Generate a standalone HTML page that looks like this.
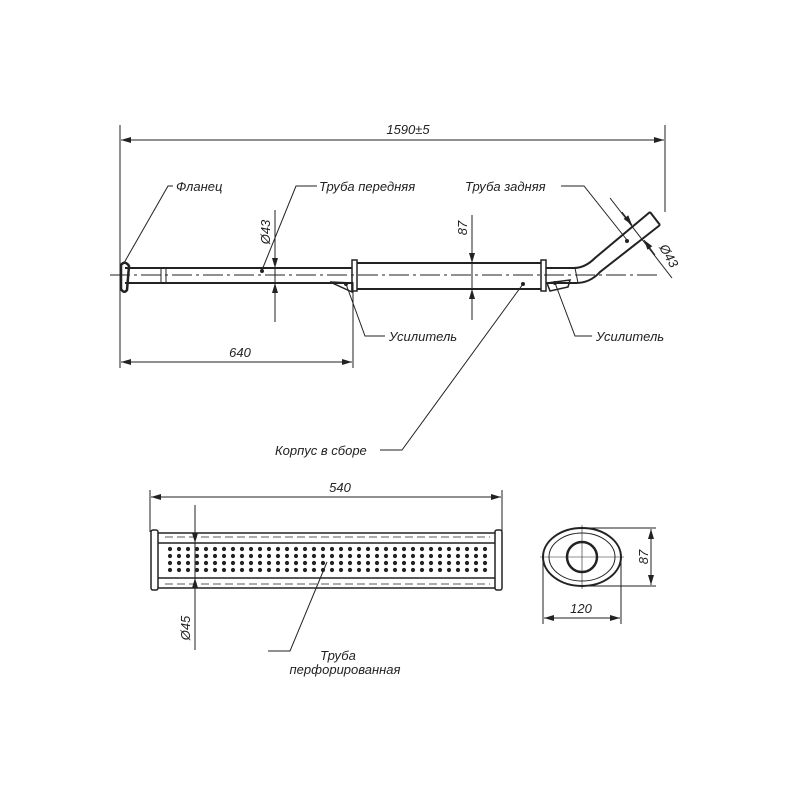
<!DOCTYPE html>
<html><head><meta charset="utf-8"><style>body{margin:0;background:#fff}svg{display:block}</style></head><body>
<svg width="800" height="800" viewBox="0 0 800 800" xmlns="http://www.w3.org/2000/svg">
<defs>
<marker id="a" viewBox="0 0 10 6" refX="10" refY="3" markerWidth="10" markerHeight="6" orient="auto-start-reverse" markerUnits="userSpaceOnUse"><path d="M0,0 L10,3 L0,6 Z" fill="#222"/></marker>
</defs>
<g stroke="#222" fill="none" stroke-width="1" font-family="Liberation Sans, sans-serif">
<line x1="120" y1="125" x2="120" y2="368"/>
<line x1="665" y1="125" x2="665" y2="212"/>
<line x1="121" y1="140" x2="664" y2="140" marker-start="url(#a)" marker-end="url(#a)"/>
<line x1="353" y1="282" x2="353" y2="368"/>
<line x1="121" y1="362" x2="352" y2="362" marker-start="url(#a)" marker-end="url(#a)"/>
<path d="M125,268 L352,268 M125,283 L352,283" stroke-width="2"/>
<line x1="161" y1="268" x2="161" y2="283"/><line x1="166" y1="268" x2="166" y2="283"/>
<line x1="110" y1="275" x2="660" y2="275" stroke-dasharray="20,4,3,4"/>
<path d="M121,265 Q125,260 129,266 L127,290 Q124,294 121,289 Z" stroke-width="2.5"/>
<path d="M330,282 L352,283 L352,292 Z" stroke-width="1.5"/>
<path d="M547,283 L570,280 L568,287 L550,291 Z" stroke-width="1.5"/>
<rect x="352" y="260" width="5" height="31" stroke-width="1.5"/>
<rect x="541" y="260" width="5" height="31" stroke-width="1.5"/>
<path d="M357,263 L541,263 M357,289 L541,289" stroke-width="2"/>
<path d="M546,268 L574,268 Q585,268 595,258 L650,212 M546,283 L576,283 Q590,283 600,272 L660,225" stroke-width="2"/>
<path d="M650,212 L660,225" stroke-width="2"/>
<line x1="575" y1="268" x2="578" y2="283"/>
<line x1="275" y1="210" x2="275" y2="322"/>
<line x1="275" y1="250" x2="275" y2="268" marker-end="url(#a)"/>
<line x1="275" y1="300" x2="275" y2="283" marker-end="url(#a)"/>
<line x1="472" y1="215" x2="472" y2="320"/>
<line x1="472" y1="245" x2="472" y2="263" marker-end="url(#a)"/>
<line x1="472" y1="307" x2="472" y2="289" marker-end="url(#a)"/>
<line x1="610" y1="198" x2="672" y2="278"/>
<line x1="622" y1="212" x2="632" y2="225" marker-end="url(#a)"/>
<line x1="655" y1="255" x2="644" y2="240" marker-end="url(#a)"/>
<polyline points="173,186 168,186 124,263"/>
<polyline points="317,186 296,186 262,270"/>
<circle cx="262" cy="271" r="1.5" fill="#222"/>
<polyline points="561,186 584,186 627,240"/>
<circle cx="627" cy="241" r="1.5" fill="#222"/>
<polyline points="346,284 365,336 385,336"/>
<circle cx="346" cy="284" r="1.5" fill="#222"/>
<polyline points="555,283 575,336 592,336"/>
<circle cx="555" cy="283" r="1.5" fill="#222"/>
<polyline points="380,450 402,450 523,284"/>
<circle cx="523" cy="284" r="1.5" fill="#222"/>
<line x1="150" y1="490" x2="150" y2="532"/>
<line x1="502" y1="490" x2="502" y2="532"/>
<line x1="151" y1="497" x2="501" y2="497" marker-start="url(#a)" marker-end="url(#a)"/>
<rect x="151" y="530" width="7" height="60" rx="2" stroke-width="1.5"/>
<rect x="495" y="530" width="7" height="60" rx="2" stroke-width="1.5"/>
<path d="M158,533 L495,533 M158,588 L495,588" stroke-width="1.5"/>
<path d="M158,543 L495,543 M158,578 L495,578" stroke-width="1.5"/>
<path d="M165,537 L490,537 M165,584 L490,584" stroke-dasharray="8,4" stroke-width="0.8"/>
<line x1="195" y1="505" x2="195" y2="650"/>
<line x1="195" y1="525" x2="195" y2="543" marker-end="url(#a)"/>
<line x1="195" y1="596" x2="195" y2="578" marker-end="url(#a)"/>
<polyline points="268,651 290,651 327,562"/>
<ellipse cx="582" cy="557" rx="39" ry="29" stroke-width="2"/>
<ellipse cx="582" cy="557" rx="33" ry="24" stroke-width="1"/>
<circle cx="582" cy="557" r="15" stroke-width="2.5"/>
<line x1="540" y1="557" x2="624" y2="557" stroke-width="0.6"/>
<line x1="582" y1="525" x2="582" y2="589" stroke-width="0.6"/>
<line x1="582" y1="528" x2="656" y2="528"/>
<line x1="582" y1="586" x2="656" y2="586"/>
<line x1="651" y1="529" x2="651" y2="585" marker-start="url(#a)" marker-end="url(#a)"/>
<line x1="543" y1="557" x2="543" y2="624"/>
<line x1="621" y1="557" x2="621" y2="624"/>
<line x1="544" y1="618" x2="620" y2="618" marker-start="url(#a)" marker-end="url(#a)"/>
</g>
<g fill="#222" font-family="Liberation Sans, sans-serif" font-style="italic" font-size="13">
<text x="408" y="134" text-anchor="middle">1590±5</text>
<text x="240" y="357" text-anchor="middle">640</text>
<text x="176" y="191">Фланец</text>
<text x="319" y="191">Труба передняя</text>
<text x="465" y="191">Труба задняя</text>
<text x="389" y="341">Усилитель</text>
<text x="596" y="341">Усилитель</text>
<text x="275" y="455">Корпус в сборе</text>
<text x="340" y="492" text-anchor="middle">540</text>
<text x="581" y="613" text-anchor="middle">120</text>
<text x="338" y="660" text-anchor="middle">Труба</text>
<text x="345" y="674" text-anchor="middle">перфорированная</text>
<text transform="translate(270,232) rotate(-90)" text-anchor="middle">Ø43</text>
<text transform="translate(467,228) rotate(-90)" text-anchor="middle">87</text>
<text transform="translate(190,628) rotate(-90)" text-anchor="middle">Ø45</text>
<text transform="translate(648,557) rotate(-90)" text-anchor="middle">87</text>
<text transform="translate(665,258) rotate(60)" text-anchor="middle">Ø43</text>
</g>
<g fill="#222">
<g id="r">
<circle cx="170" cy="549" r="2.1"/><circle cx="179" cy="549" r="2.1"/><circle cx="188" cy="549" r="2.1"/><circle cx="197" cy="549" r="2.1"/><circle cx="206" cy="549" r="2.1"/><circle cx="215" cy="549" r="2.1"/><circle cx="224" cy="549" r="2.1"/><circle cx="233" cy="549" r="2.1"/><circle cx="242" cy="549" r="2.1"/><circle cx="251" cy="549" r="2.1"/><circle cx="260" cy="549" r="2.1"/><circle cx="269" cy="549" r="2.1"/><circle cx="278" cy="549" r="2.1"/><circle cx="287" cy="549" r="2.1"/><circle cx="296" cy="549" r="2.1"/><circle cx="305" cy="549" r="2.1"/><circle cx="314" cy="549" r="2.1"/><circle cx="323" cy="549" r="2.1"/><circle cx="332" cy="549" r="2.1"/><circle cx="341" cy="549" r="2.1"/><circle cx="350" cy="549" r="2.1"/><circle cx="359" cy="549" r="2.1"/><circle cx="368" cy="549" r="2.1"/><circle cx="377" cy="549" r="2.1"/><circle cx="386" cy="549" r="2.1"/><circle cx="395" cy="549" r="2.1"/><circle cx="404" cy="549" r="2.1"/><circle cx="413" cy="549" r="2.1"/><circle cx="422" cy="549" r="2.1"/><circle cx="431" cy="549" r="2.1"/><circle cx="440" cy="549" r="2.1"/><circle cx="449" cy="549" r="2.1"/><circle cx="458" cy="549" r="2.1"/><circle cx="467" cy="549" r="2.1"/><circle cx="476" cy="549" r="2.1"/><circle cx="485" cy="549" r="2.1"/>
</g>
<use href="#r" y="7"/><use href="#r" y="14"/><use href="#r" y="21"/>
</g>
</svg>
</body></html>
